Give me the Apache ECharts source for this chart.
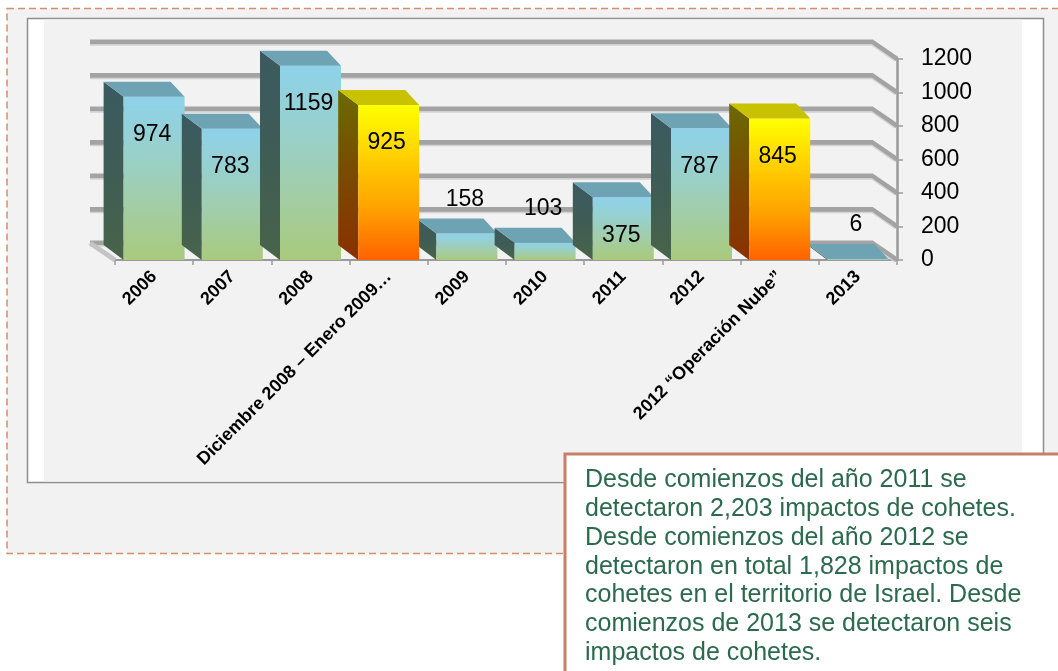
<!DOCTYPE html>
<html>
<head>
<meta charset="utf-8">
<script src="https://cdn.jsdelivr.net/npm/echarts@6/dist/echarts.min.js"></script>
<style>
html,body{margin:0;padding:0;background:#fff;}
#chart{width:1058px;height:671px;}
</style>
</head>
<body>
<div id="chart"></div>
<script>
// ---- data ----
var categories = ['2006', '2007', '2008', 'Diciembre 2008 – Enero 2009…', '2009', '2010', '2011', '2012', '2012 “Operación Nube”', '2013'];
var anualValues = [974, 783, 1159, null, 158, 103, 375, 787, null, 6];
var operacionValues = [null, null, null, 925, null, null, null, null, 845, null];
var yTicks = [0, 200, 400, 600, 800, 1000, 1200];
var noteLines = [
  'Desde comienzos del año 2011 se',
  'detectaron 2,203 impactos de cohetes.',
  'Desde comienzos del año 2012 se',
  'detectaron en total 1,828 impactos de',
  'cohetes en el territorio de Israel. Desde',
  'comienzos de 2013 se detectaron seis',
  'impactos de cohetes.'
];

var FONT = '"Liberation Sans", Arial, sans-serif';
var chart = echarts.init(document.getElementById('chart'), null, {renderer: 'canvas'});

function lg(stops) {
  return new echarts.graphic.LinearGradient(0, 0, 0, 1, stops.map(function (c, i) {
    return {offset: i / (stops.length - 1), color: c};
  }));
}

var palettes = {
  anual: {
    front: ['#8ed2ea', '#98d0cc', '#a2cda6', '#a9ca7c'],
    side: ['#3b5a5f', '#3f5c55', '#48644a'],
    top: '#6ea3b3'
  },
  operacion: {
    front: ['#ffff00', '#ffd000', '#ffa200', '#ff6200'],
    side: ['#6b6a00', '#7a4a00', '#8a3000'],
    top: '#c9c200'
  }
};

function makeBarRenderer(pal) {
  return function (params, api) {
    var v = api.value(1);
    if (v === null || v === undefined || isNaN(v)) return;
    var idx = api.value(0);
    var top = api.coord([idx, v]);
    var base = api.coord([idx, 0]);
    var band = api.size([1, 0])[0];
    var w = band * 0.78;
    var x0 = top[0] - w / 2, x1 = top[0] + w / 2;
    var yt = top[1], yb = base[1];
    var dl = 20, dr = 14, dy = 15;
    var children = [
      {type: 'polygon', shape: {points: [[x0, yt], [x0 - dl, yt - dy], [x0 - dl, yb - dy], [x0, yb]]},
        style: {fill: lg(pal.side)}},
      {type: 'rect', shape: {x: x0, y: yt, width: w, height: yb - yt},
        style: {fill: lg(pal.front)}},
      {type: 'polygon', shape: {points: [[x0, yt], [x1, yt], [x1 - dr, yt - dy], [x0 - dl, yt - dy]]},
        style: {fill: pal.top}}
    ];
    var inside = v >= 300;
    children.push({
      type: 'text', z2: 10,
      style: {
        text: String(v), x: (x0 + x1) / 2 - 2, y: inside ? yt + 38 : yt - 34,
        align: 'center', verticalAlign: 'middle',
        fill: '#000', font: '23px ' + FONT
      }
    });
    return {type: 'group', children: children};
  };
}

function renderGrid(params, api) {
  var v = api.value(1);
  var cs = params.coordSys;
  var y = api.coord([0, v])[1];
  var xl = cs.x - 25, xr = cs.x + cs.width - 25, xa = cs.x + cs.width;
  var pts = [[xl, y - 17], [xr, y - 17], [xa, y]];
  var children = [
    {type: 'polyline', shape: {points: pts}, style: {stroke: '#a3a3a3', lineWidth: 5, fill: null}},
    {type: 'polyline', shape: {points: [[xl, y - 14], [xr, y - 14], [xa - 2, y + 2]]}, style: {stroke: '#d2d2d2', lineWidth: 1.5, fill: null}}
  ];
  if (v === 0) {
    children.push({type: 'line', shape: {x1: xl, y1: y - 17, x2: cs.x, y2: y}, style: {stroke: '#c4c4c4', lineWidth: 5}});
  }
  return {type: 'group', children: children};
}

var option = {
  animation: false,
  textStyle: {fontFamily: FONT},
  graphic: [
    {type: 'rect', z: -10, silent: true, shape: {x: 7, y: 8.5, width: 1100, height: 545},
      style: {fill: '#f2f2f2', stroke: '#d98c68', lineWidth: 1.5, lineDash: [7, 4]}},
    {type: 'rect', z: -9, silent: true, shape: {x: 27.5, y: 18.5, width: 1016, height: 464},
      style: {fill: '#ffffff', stroke: '#8e8e8e', lineWidth: 1.5}},
    {type: 'rect', z: -8, silent: true, shape: {x: 44, y: 19.5, width: 978, height: 462},
      style: {fill: '#f2f2f2'}},
    {type: 'group', z: 100, children: [
      {type: 'rect', shape: {x: 565, y: 454, width: 520, height: 240},
        style: {fill: '#ffffff', stroke: '#c68068', lineWidth: 3}},
      {type: 'text', style: {x: 585, y: 466, text: noteLines.join('\n'),
        font: '25px ' + FONT, lineHeight: 28.8, fill: '#2b6a4c'}}
    ]}
  ],
  grid: {left: 115, right: 161, top: 59, bottom: 411, containLabel: false},
  xAxis: {
    type: 'category', data: categories,
    axisLine: {lineStyle: {color: '#9a9a9a', width: 2}},
    axisTick: {show: true, length: 5, lineStyle: {color: '#9a9a9a', width: 1.5}},
    axisLabel: {interval: 0, rotate: 45, margin: 14, color: '#000', fontWeight: 'bold', fontSize: 18, fontFamily: FONT}
  },
  yAxis: {
    type: 'value', position: 'right', min: 0, max: 1200, interval: 200,
    axisLine: {show: true, lineStyle: {color: '#9a9a9a', width: 2.5}},
    axisTick: {show: true, length: 6, lineStyle: {color: '#9a9a9a', width: 1.5}},
    splitLine: {show: false},
    axisLabel: {margin: 24, color: '#000', fontSize: 23, fontFamily: FONT,
      formatter: function (val) { return String(val); }}
  },
  series: [
    {type: 'custom', name: 'grid', renderItem: renderGrid, silent: true, z: 1,
      data: yTicks.map(function (t) { return [0, t]; })},
    {type: 'custom', name: 'Anual', renderItem: makeBarRenderer(palettes.anual), z: 2,
      data: anualValues.map(function (v, i) { return [i, v]; })},
    {type: 'custom', name: 'Operación', renderItem: makeBarRenderer(palettes.operacion), z: 3,
      data: operacionValues.map(function (v, i) { return [i, v]; })}
  ]
};
chart.setOption(option);
</script>
</body>
</html>
